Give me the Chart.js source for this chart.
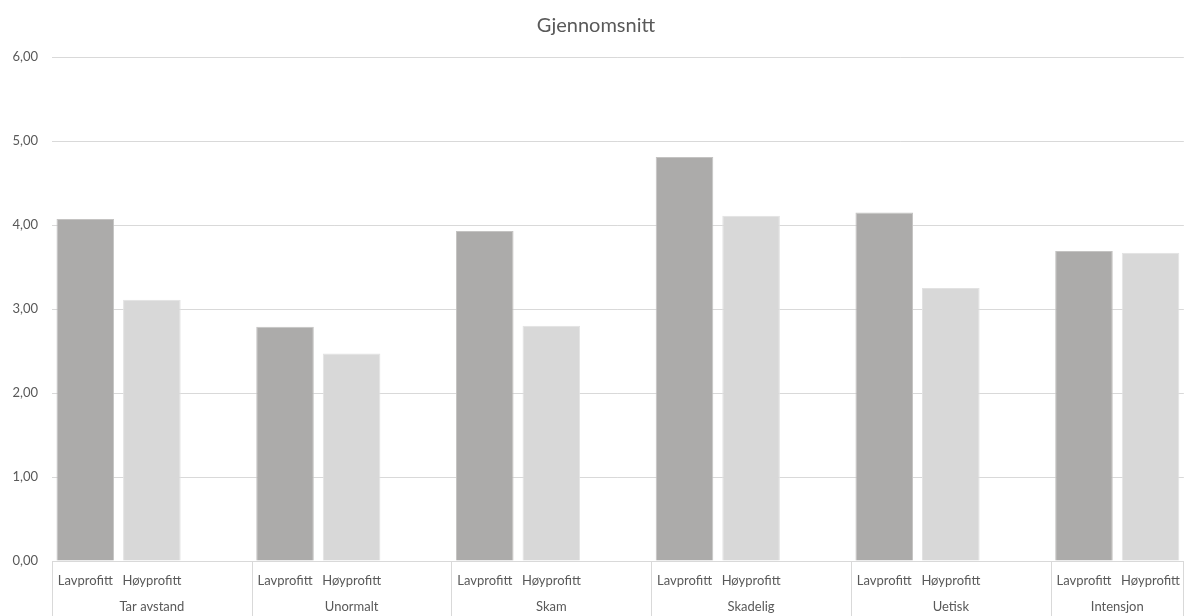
<!DOCTYPE html>
<html>
<head>
<meta charset="utf-8">
<title>Gjennomsnitt</title>
<script src="https://cdn.jsdelivr.net/npm/chart.js@4.4.1/dist/chart.umd.min.js"></script>
<style>
  html, body { margin: 0; padding: 0; background: #fff; }
  #wrap { width: 1192px; height: 616px; }
</style>
</head>
<body>
<div id="wrap"><canvas id="myChart" width="1192" height="616"></canvas></div>
<script>
const groups = ['Tar avstand', 'Unormalt', 'Skam', 'Skadelig', 'Uetisk', 'Intensjon'];
const subLabels = ['Lavprofitt', 'Høyprofitt'];
const lavprofitt = [4.07, 2.79, 3.93, 4.81, 4.15, 3.69];
const hoyprofitt = [3.11, 2.47, 2.80, 4.11, 3.25, 3.67];
const yTicks = [0, 1, 2, 3, 4, 5, 6];

const textColor = '#595959';
const lineColor = '#d9d9d9';
const fontFamily = 'Lato, "Open Sans", sans-serif';

// each group gets Lav, Høy and an empty spacer slot (no spacer after the last group)
const labels = [];
const lavData = [];
const hoyData = [];
const groupSpans = [];
groups.forEach((g, i) => {
    const start = labels.length;
    labels.push(subLabels[0], subLabels[1]);
    lavData.push(lavprofitt[i], null);
    hoyData.push(null, hoyprofitt[i]);
    if (i < groups.length - 1) {
        labels.push('');
        lavData.push(null);
        hoyData.push(null);
    }
    groupSpans.push([start, labels.length]);
});

// second row of the category axis: group names and separators
const groupAxis = {
    id: 'groupAxis',
    afterDraw(chart) {
        const x = chart.scales.x;
        const ctx = chart.ctx;
        const w = (x.right - x.left) / labels.length;
        const top = chart.chartArea.bottom;
        ctx.save();
        ctx.strokeStyle = lineColor;
        ctx.lineWidth = 1;
        ctx.fillStyle = textColor;
        ctx.font = '13px ' + fontFamily;
        ctx.textAlign = 'center';
        ctx.textBaseline = 'middle';
        groupSpans.forEach(([s, e], i) => {
            const x0 = Math.round(x.left + s * w) + 0.5;
            ctx.beginPath();
            ctx.moveTo(x0, top);
            ctx.lineTo(x0, chart.height);
            ctx.stroke();
            ctx.fillText(groups[i], x.left + (s + e) / 2 * w, top + 46);
        });
        const xr = Math.round(x.right) - 0.5;
        ctx.beginPath();
        ctx.moveTo(xr, top);
        ctx.lineTo(xr, chart.height);
        ctx.stroke();
        ctx.restore();
    }
};

const ctx = document.getElementById('myChart').getContext('2d');

let myChart = new Chart(ctx, {
    type: 'bar',
    data: {
        labels: labels,
        datasets: [
            {
                label: 'Lavprofitt',
                data: lavData,
                backgroundColor: '#acabaa',
                borderColor: '#c4c3c2',
                borderWidth: 1,
            },
            {
                label: 'Høyprofitt',
                data: hoyData,
                backgroundColor: '#d8d8d8',
                borderColor: '#e2e2e2',
                borderWidth: 1,
            },
        ],
    },
    options: {
        responsive: false,
        animation: false,
        layout: { padding: 0 },
        datasets: {
            bar: {
                grouped: false,
                categoryPercentage: 1,
                barPercentage: 0.865,
                skipNull: true,
            },
        },
        plugins: {
            legend: { display: false },
            tooltip: { enabled: false },
            title: {
                display: true,
                text: 'Gjennomsnitt',
                color: textColor,
                font: { family: fontFamily, size: 20, weight: 'normal' },
                padding: { top: 14, bottom: 19 },
            },
        },
        scales: {
            y: {
                min: 0,
                max: 6,
                afterBuildTicks: (scale) => {
                    scale.ticks = yTicks.map(v => ({ value: v }));
                },
                afterFit: (scale) => { scale.width = 52; },
                ticks: {
                    color: textColor,
                    padding: 14,
                    font: { family: fontFamily, size: 13 },
                    callback: (v) => v.toFixed(2).replace('.', ','),
                },
                grid: { color: lineColor, drawTicks: false },
                border: { display: false },
            },
            x: {
                afterFit: (scale) => { scale.height = 55; },
                ticks: {
                    color: textColor,
                    padding: 12,
                    autoSkip: false,
                    maxRotation: 0,
                    minRotation: 0,
                    font: { family: fontFamily, size: 13 },
                },
                grid: { display: false, drawTicks: false },
                border: { display: true, color: lineColor },
            },
        },
    },
    plugins: [groupAxis],
});
</script>
</body>
</html>
